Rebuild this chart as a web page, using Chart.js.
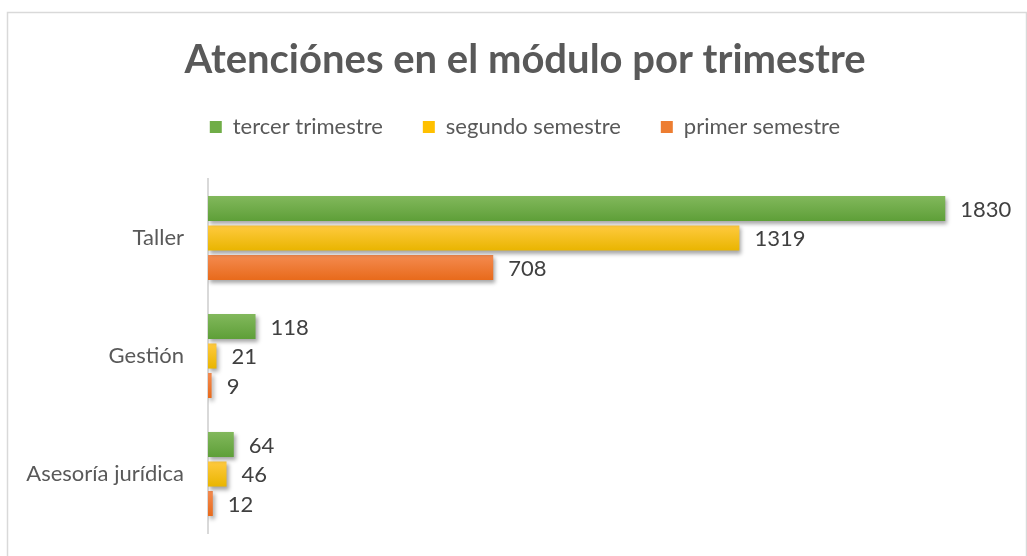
<!DOCTYPE html>
<html>
<head>
<meta charset="utf-8">
<script src="https://cdn.jsdelivr.net/npm/chart.js@4/dist/chart.umd.min.js"></script>
<style>
  html, body { margin: 0; padding: 0; background: #fff; overflow: hidden; }
  canvas { display: block; }
</style>
</head>
<body>
<canvas id="myChart" width="1050" height="556"></canvas>
<script>
// data
var categories = ['Taller', 'Gestión', 'Asesoría jurídica'];
var seriesNames = ['tercer trimestre', 'segundo semestre', 'primer semestre'];
var tercer = [1830, 118, 64];
var segundo = [1319, 21, 46];
var primer = [708, 9, 12];

var topColors = ['#82b85c', '#ffca3f', '#f48b50'];
var bottomColors = ['#5e9f38', '#e9b500', '#e86a1b'];
var midColors = ['#70ad47', '#ffc000', '#ed7d31'];

var catPct = 0.75, barPct = 0.85;

// vertical gradient for each bar, worked out from the category scale
function barFill(c) {
  var chart = c.chart;
  var y = chart.scales && chart.scales.y;
  if (!y || c.dataIndex == null || !chart.chartArea) return midColors[c.datasetIndex];
  var band = y.height / categories.length;
  var size = band * catPct / 3;
  var center = y.getPixelForValue(c.dataIndex) - band * catPct / 2 + size * (c.datasetIndex + 0.5);
  var h = size * barPct / 2;
  var g = chart.ctx.createLinearGradient(0, center - h, 0, center + h);
  g.addColorStop(0, topColors[c.datasetIndex]);
  g.addColorStop(1, bottomColors[c.datasetIndex]);
  return g;
}

const frame = {
  id: 'frame',
  beforeDraw(chart) {
    const ctx = chart.ctx;
    ctx.save();
    ctx.strokeStyle = '#d9d9d9';
    ctx.lineWidth = 1.5;
    ctx.strokeRect(7.5, 12.5, 1019, 560);
    ctx.restore();
  }
};

const shadow = {
  id: 'shadow',
  beforeDatasetsDraw(chart) {
    const ctx = chart.ctx;
    ctx.save();
    ctx.shadowColor = 'rgba(0,0,0,0.35)';
    ctx.shadowBlur = 4;
    ctx.shadowOffsetX = 2;
    ctx.shadowOffsetY = 3;
  },
  afterDatasetsDraw(chart) {
    chart.ctx.restore();
  }
};

const valueLabels = {
  id: 'valueLabels',
  afterDatasetsDraw(chart) {
    const ctx = chart.ctx;
    ctx.save();
    ctx.font = '22px Lato';
    ctx.fillStyle = '#404040';
    ctx.textAlign = 'left';
    ctx.textBaseline = 'middle';
    chart.data.datasets.forEach(function(ds, i) {
      chart.getDatasetMeta(i).data.forEach(function(bar, j) {
        ctx.fillText(ds.data[j], bar.x + 15, bar.y + 1);
      });
    });
    ctx.restore();
  }
};

const ctx = document.getElementById('myChart').getContext('2d');
let myChart = new Chart(ctx, {
  type: 'bar',
  data: {
    labels: categories,
    datasets: [
      { label: seriesNames[0], data: tercer, backgroundColor: barFill },
      { label: seriesNames[1], data: segundo, backgroundColor: barFill },
      { label: seriesNames[2], data: primer, backgroundColor: barFill }
    ]
  },
  options: {
    indexAxis: 'y',
    responsive: false,
    animation: false,
    datasets: {
      bar: {
        borderWidth: 0,
        categoryPercentage: catPct,
        barPercentage: barPct
      }
    },
    layout: { padding: { left: 0, right: 0, top: 0, bottom: 23 } },
    scales: {
      x: {
        position: 'top', min: 0, max: 2090,
        grid: { display: false }, border: { display: false }, ticks: { display: false },
        afterFit: function(s) { s.height = 31; }
      },
      y: {
        grid: { display: false },
        border: { display: true, color: '#d9d9d9', width: 2 },
        ticks: { color: '#595959', font: { family: 'Lato', size: 22 }, padding: 16 },
        afterFit: function(s) { s.width = 208; s.paddingTop = 0; s.paddingBottom = 0; }
      }
    },
    plugins: {
      colors: { enabled: false },
      title: {
        display: true,
        text: 'Atenciónes en el módulo por trimestre',
        color: '#595959',
        font: { family: 'Lato', size: 40, weight: 'bold' },
        padding: { top: 36, bottom: -8 }
      },
      legend: {
        position: 'top',
        labels: {
          color: '#595959',
          font: { family: 'Lato', size: 22 },
          boxWidth: 12,
          boxHeight: 12,
          padding: 40,
          generateLabels: function(chart) {
            return seriesNames.map(function(n, i) {
              return { text: n, fillStyle: midColors[i], strokeStyle: midColors[i], lineWidth: 0, datasetIndex: i, fontColor: '#595959' };
            });
          }
        }
      },
      tooltip: { enabled: false }
    }
  },
  plugins: [frame, shadow, valueLabels]
});
</script>
</body>
</html>
